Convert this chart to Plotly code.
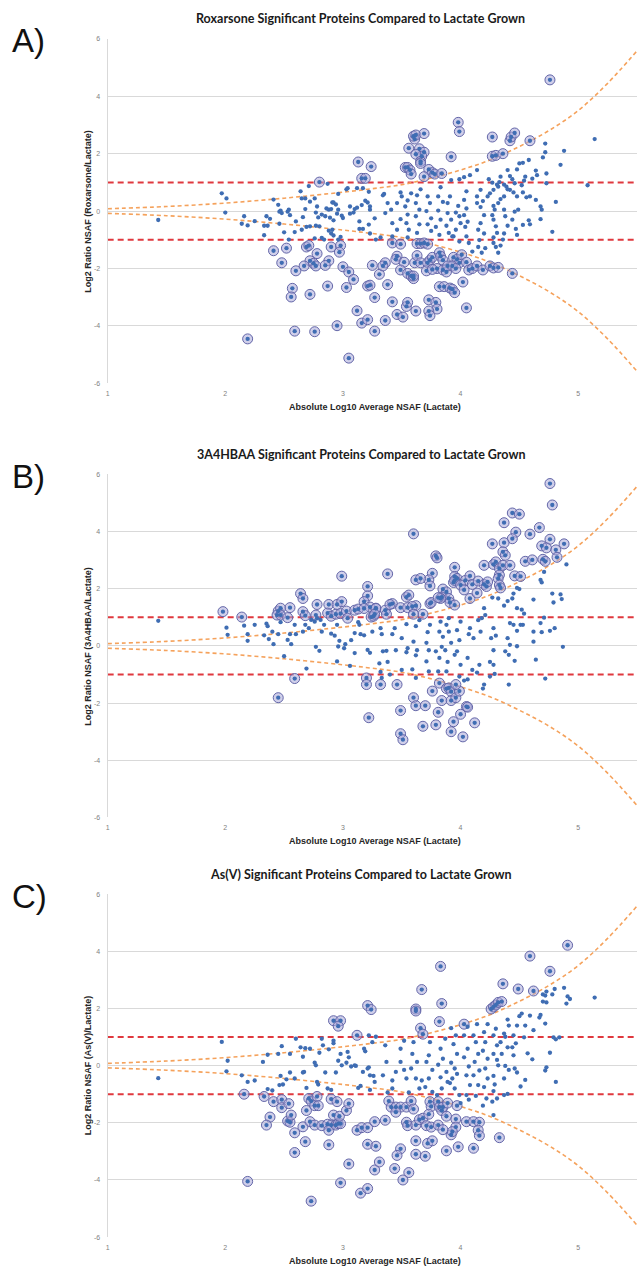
import plotly.graph_objects as go

# ---------------- data ----------------
# Panel A: Roxarsone
A_SIG = [(3.13,1.71),(3.24,1.55),(3.16,1.14),(3.19,1.14),(2.80,1.01),(2.41,-1.38),(2.52,-1.29),(2.69,-1.25),(2.71,-1.2),(2.90,-1.25),(2.98,-1.2),(2.97,-1.43),(2.78,-1.48),(2.48,-1.8),(2.72,-1.73),(2.75,-1.82),(2.77,-1.91),(2.88,-1.73),(2.85,-1.89),(2.67,-1.91),(2.60,-2.08),(3.0,-1.94),(3.05,-2.12),(3.09,-2.38),(3.25,-1.89),(3.31,-2.2),(2.57,-2.69),(2.56,-2.99),(2.72,-2.9),(2.87,-2.61),(3.03,-2.66),(3.21,-2.61),(3.23,-2.58),(3.27,-3.01),(3.12,-3.47),(2.95,-3.99),(3.16,-3.9),(3.21,-3.78),(2.59,-4.18),(2.76,-4.2),(3.27,-4.18),(2.19,-4.45),(3.05,-5.12),
(4.76,4.57),(3.98,3.09),(3.99,2.77),(4.27,2.58),(4.42,2.45),(4.43,2.58),(4.46,2.72),(4.59,2.45),(3.61,2.51),(3.60,2.61),(3.62,2.65),(3.69,2.7),(3.56,2.19),(3.65,2.17),(3.69,2.05),(3.67,1.91),(3.62,1.98),(3.66,1.73),(3.66,1.66),(3.92,1.89),(4.27,1.91),(4.30,1.94),(4.36,2.0),(3.53,1.52),(3.55,1.52),(3.57,1.43),(3.58,1.29),(3.73,1.45),(3.76,1.34),(3.78,1.29),(3.84,1.31),(3.69,1.2),
(3.42,-1.11),(3.49,-1.15),(3.63,-1.13),(3.66,-1.13),(3.69,-1.11),(3.72,-1.15),(3.46,-1.57),(3.45,-1.68),(3.36,-1.8),(3.34,-1.91),(3.52,-1.78),(3.49,-2.05),(3.61,-1.8),(3.63,-1.55),(3.66,-1.8),(3.72,-1.8),(3.74,-1.71),(3.76,-1.61),(3.82,-1.45),(3.83,-1.57),(3.85,-1.71),(3.80,-2.0),(3.85,-2.05),(3.88,-2.12),(3.89,-1.91),(3.94,-1.61),(3.97,-1.68),(3.99,-1.8),(3.93,-1.91),(3.96,-2.0),(4.01,-1.52),(4.05,-1.78),(4.07,-2.05),(4.10,-2.0),(4.14,-1.91),(4.19,-2.05),(4.25,-1.91),(4.28,-1.98),(4.32,-1.96),(4.44,-2.17),(3.71,-2.08),(3.76,-2.03),(3.55,-2.17),(3.58,-2.26),(3.60,-2.35),(3.60,-2.26),(3.38,-2.56),(3.82,-2.63),(3.86,-2.63),(3.91,-2.68),(3.93,-2.72),(3.95,-2.84),(4.02,-2.47),(3.42,-3.16),(3.54,-3.32),(3.55,-3.18),(3.62,-3.48),(3.73,-3.09),(3.79,-3.18),(3.80,-3.41),(3.73,-3.48),(3.74,-3.64),(4.05,-3.37),(3.46,-3.6),(3.51,-3.69),(3.36,-3.81)]

A_OTHER = [(1.43,-0.31),(1.97,0.62),(2.01,0.44),(2.0,-0.05),(2.16,-0.18),(2.14,-0.44),(2.19,-0.5),(2.25,-0.35),(2.33,-0.51),(2.36,-0.51),(2.33,-0.84),(2.35,-0.18),(2.38,-0.27),(2.41,0.4),(2.45,0.22),(2.46,-0.02),(2.47,0.02),(2.48,-0.07),(2.46,-0.44),(2.50,-0.74),(2.53,-0.02),(2.54,0.05),(2.55,-0.14),(2.54,-0.99),(2.60,-0.36),(2.59,-0.73),(2.64,0.69),(2.65,0.44),(2.68,0.44),(2.68,0.07),(2.66,-0.21),(2.65,-0.65),(2.71,0.87),(2.72,0.33),(2.69,-0.55),(2.72,-0.53),(2.76,0.44),(2.78,0.16),(2.77,-0.05),(2.79,-0.22),(2.77,-0.51),(2.80,-0.53),(2.76,-0.95),(2.82,-0.93),(2.84,-0.99),(2.87,0.95),(2.86,0.09),(2.88,0.05),(2.90,0.07),(2.82,-0.12),(2.85,-0.18),(2.91,0.3),(2.92,0.3),(2.94,0.23),(2.96,0.05),(2.95,-0.09),(2.89,-0.23),(2.92,-0.32),(2.88,-0.68),(2.91,-0.65),(2.90,-0.78),(2.92,-0.85),(2.96,0.6),(2.96,-0.99),(2.98,-0.9),(2.99,-0.16),(3.0,-0.24),(3.03,0.76),(3.04,0.8),(3.06,0.16),(3.06,-0.09),(3.09,-0.05),(3.10,0.07),(3.12,0.12),(3.14,-0.36),(3.12,0.8),(3.17,0.8),(3.16,0.21),(3.19,0.36),(3.21,0.3),(3.22,0.67),(3.23,0.16),(3.23,0.05),(3.14,-0.62),(3.17,-0.62),(3.22,-0.47),(3.23,-0.78),(3.27,-0.25),(3.28,-0.99),
(5.14,2.51),(4.88,2.1),(4.85,1.61),(4.72,2.35),(4.72,2.05),(4.70,1.87),(4.73,1.31),(4.58,1.78),(4.53,1.68),(4.50,1.66),(4.48,1.45),(4.64,1.41),(4.65,1.25),(4.61,1.13),(4.55,1.2),(4.54,1.06),(4.52,0.9),(4.53,0.65),(4.40,1.43),(4.42,1.22),(4.44,1.11),(4.46,0.97),(4.34,1.2),(4.33,1.01),(4.37,0.92),(4.39,0.85),(4.14,1.43),(4.08,1.25),(4.03,1.18),(3.92,1.08),(3.99,1.11),(4.24,1.11),(4.27,0.99),(4.31,0.92),(4.32,0.85),(4.73,0.97),(5.08,0.9),(4.81,0.32),(4.78,-0.72),(4.68,0.16),(4.69,0.05),(4.68,-0.28),(4.64,0.39),(4.59,0.51),(4.56,0.48),(4.58,-0.32),(4.59,-0.46),(4.53,-0.48),(4.48,0.51),(4.45,0.65),(4.42,0.74),(4.40,0.76),(4.49,0.05),(4.46,-0.02),(4.44,-0.3),(4.47,-0.62),(4.48,-0.83),(4.37,0.51),(4.34,0.42),(4.32,0.28),(4.37,0.05),(4.38,-0.18),(4.40,-0.51),(4.37,-0.78),(4.36,-0.99),(4.34,-1.2),(4.32,-1.45),(4.28,0.74),(4.25,0.62),(4.23,0.51),(4.19,0.35),(4.28,0.18),(4.29,0.05),(4.27,-0.14),(4.28,-0.3),(4.30,-0.53),(4.31,-0.76),(4.28,-0.92),(4.28,-1.11),(4.30,-1.25),(4.17,0.74),(4.14,0.51),(4.14,0.28),(4.17,0.14),(4.20,-0.14),(4.17,-0.42),(4.15,-0.65),(4.20,-0.78),(4.16,-1.01),(4.15,-1.25),(4.21,-1.29),(4.18,-1.45),(4.05,0.69),(4.03,0.39),(4.05,0.09),(4.03,-0.14),(4.06,-0.37),(4.04,-0.55),(4.05,-0.88),(4.07,-1.11),(4.10,-1.41),(3.98,0.18),(3.96,-0.05),(3.99,-0.18),(4.0,-0.42),(3.96,-0.65),(3.94,-0.88),(3.99,-1.06),(3.91,0.51),(3.89,0.28),(3.89,-0.07),(3.92,-0.3),(3.88,-0.51),(3.90,-0.76),(3.93,-0.88),(3.83,0.83),(3.81,0.51),(3.85,0.32),(3.81,0.02),(3.83,-0.3),(3.79,-0.55),(3.82,-0.83),(3.72,0.51),(3.74,0.28),(3.71,0.0),(3.75,-0.25),(3.72,-0.46),(3.75,-0.69),(3.66,0.76),(3.63,0.55),(3.62,0.28),(3.65,0.05),(3.62,-0.18),(3.65,-0.46),(3.63,-0.76),(3.58,0.62),(3.55,0.37),(3.53,0.16),(3.55,-0.12),(3.54,-0.42),(3.56,-0.65),(3.55,-0.92),(3.49,0.65),(3.50,0.51),(3.46,0.28),(3.49,-0.28),(3.46,-0.65),(3.42,-0.88),(3.35,0.6),(3.34,0.55),(3.36,-0.07),(3.38,0.28),(3.41,0.05),(3.42,-0.42),(3.32,-0.92)]

# Panel B: 3A4HBAA
B_SIG = [(2.99,2.44),(3.21,2.08),(3.21,1.75),(2.64,1.83),(2.66,1.66),(1.98,1.2),(2.14,1.01),(2.45,1.22),(2.47,1.32),(2.55,1.34),(2.44,1.08),(2.47,1.08),(2.53,0.99),(2.66,1.2),(2.68,1.06),(2.78,1.45),(2.88,1.45),(2.95,1.45),(2.99,1.55),(2.77,1.08),(2.87,1.15),(2.90,1.04),(2.94,1.11),(2.98,1.13),(3.03,1.22),(3.10,1.25),(3.13,1.29),(3.18,1.55),(3.23,1.36),(3.28,1.32),(3.04,0.97),(3.24,1.01),(3.26,1.04),(2.59,-1.14),(2.45,-1.81),(3.20,-1.12),(3.20,-1.35),(3.22,-2.51),(3.32,-1.35),
(4.76,5.68),(4.78,4.93),(4.44,4.65),(4.50,4.61),(4.37,4.31),(4.67,4.14),(4.59,3.91),(4.47,3.98),(4.44,3.75),(3.60,3.92),(4.27,3.57),(4.37,3.61),(4.36,3.29),(4.38,3.17),(4.69,3.5),(4.76,3.73),(4.73,3.43),(4.81,3.36),(4.88,3.57),(4.82,3.1),(3.79,3.15),(3.80,3.08),(4.55,2.96),(4.61,3.01),(4.70,3.03),(4.72,2.96),(3.38,2.52),(3.76,2.54),(3.73,2.31),(3.74,2.1),(3.62,2.31),(3.66,2.36),(3.95,2.75),(3.95,2.43),(3.97,2.36),(3.94,2.22),(3.95,2.29),(4.04,2.29),(4.08,2.45),(4.10,2.15),(4.15,2.27),(4.20,2.15),(4.22,2.08),(4.23,2.24),(4.20,2.82),(4.28,2.85),(4.30,2.94),(4.33,2.71),(4.33,2.48),(4.32,2.36),(4.33,2.13),(4.34,2.03),(4.36,2.82),(4.42,2.82),(4.46,2.45),(4.51,2.43),(3.85,1.99),(3.88,1.89),(3.84,1.71),(3.90,1.66),(3.91,1.52),(3.95,1.43),(4.0,2.13),(4.03,1.96),(4.08,1.66),(4.14,1.85),(3.18,1.31),(3.28,1.31),(3.27,1.11),(3.36,1.25),(3.37,1.11),(3.42,1.48),(3.40,1.45),(3.49,1.34),(3.55,1.34),(3.54,1.71),(3.56,1.78),(3.62,1.41),(3.68,1.11),(3.74,1.48),(3.75,1.52),(3.83,1.66),(3.81,1.69),(3.59,1.38),(3.60,1.11),
(3.46,-1.35),(3.49,-2.26),(3.49,-3.07),(3.51,-3.28),(3.60,-1.81),(3.62,-2.09),(3.70,-2.09),(3.68,-2.81),(3.76,-1.58),(3.81,-2.32),(3.79,-2.76),(3.82,-1.3),(3.84,-1.91),(3.88,-1.49),(3.90,-1.47),(3.92,-1.6),(3.92,-1.91),(3.96,-1.81),(3.99,-1.58),(3.96,-1.35),(4.0,-2.39),(4.05,-2.12),(4.06,-2.14),(3.94,-2.65),(3.92,-3.0),(4.02,-3.18),(4.12,-2.69)]

B_OTHER = [(1.43,0.88),(2.01,0.64),(2.02,0.39),(2.16,0.71),(2.19,0.41),(2.19,0.18),(2.25,0.74),(2.33,0.37),(2.35,0.78),(2.36,0.69),(2.41,0.06),(2.37,0.24),(2.40,0.5),(2.45,0.41),(2.47,0.83),(2.50,-0.36),(2.53,0.21),(2.55,0.41),(2.56,0.06),(2.59,0.74),(2.60,0.41),(2.68,0.74),(2.71,0.62),(2.66,0.5),(2.69,-0.79),(2.73,0.91),(2.76,0.85),(2.78,0.97),(2.81,0.91),(2.84,0.74),(2.82,0.5),(2.77,-0.03),(2.80,-0.17),(2.93,0.36),(2.90,0.43),(2.95,0.74),(2.97,0.18),(2.96,-0.02),(3.01,-0.08),(3.02,0.06),(2.95,-0.54),(3.06,-0.7),(3.10,-0.25),(3.13,0.83),(3.14,0.74),(3.15,0.41),(3.18,0.37),(3.21,-0.14),(3.23,-0.24),(3.25,0.5),(3.32,0.62),(3.07,0.2),(3.10,0.45),(3.31,-0.61),(3.33,-1.12),
(4.90,2.85),(4.78,1.83),(4.85,1.8),(4.86,1.64),(4.79,1.52),(4.68,2.31),(4.69,2.22),(4.71,2.59),(4.62,1.62),(4.87,-0.03),(4.72,-1.14),(4.80,0.62),(4.76,0.53),(4.69,0.48),(4.68,0.8),(4.71,0.99),(4.62,0.5),(4.62,0.15),(4.64,-0.48),(4.48,2.03),(4.50,1.99),(4.45,1.83),(4.44,1.66),(4.40,1.57),(4.37,1.41),(4.32,1.66),(4.27,1.69),(4.48,1.32),(4.52,1.27),(4.54,1.13),(4.53,0.74),(4.51,0.74),(4.48,0.53),(4.45,0.74),(4.42,0.8),(4.40,0.27),(4.42,0.04),(4.38,-0.19),(4.41,-0.31),(4.48,-0.01),(4.46,-0.52),(4.41,-1.35),(4.28,0.62),(4.30,0.36),(4.26,0.27),(4.28,-0.15),(4.25,-0.56),(4.28,-0.66),(4.29,-0.98),(4.25,-1.07),(4.20,1.32),(4.18,0.97),(4.15,0.9),(4.17,0.5),(4.21,1.08),(4.16,-0.66),(4.14,-0.93),(4.20,-1.35),(4.19,-1.49),(4.08,0.62),(4.07,0.41),(4.11,0.27),(4.06,-0.42),(4.10,-0.84),(4.06,-1.17),(4.0,0.85),(3.97,0.55),(3.99,0.2),(3.97,-0.19),(3.95,-0.31),(4.0,-0.66),(3.99,-1.07),(4.03,-1.21),(3.90,0.97),(3.88,0.74),(3.90,0.5),(3.92,0.11),(3.87,-0.15),(3.89,-0.56),(3.88,-0.89),(3.83,0.85),(3.82,0.5),(3.85,0.32),(3.84,-0.03),(3.79,-0.19),(3.82,-0.42),(3.81,-0.89),(3.74,0.74),(3.72,0.48),(3.71,0.11),(3.73,-0.15),(3.71,-0.54),(3.73,-0.89),(3.65,0.9),(3.62,0.69),(3.60,0.15),(3.63,-0.15),(3.62,-0.33),(3.59,-0.82),(3.62,-1.12),(3.54,0.76),(3.50,0.27),(3.55,-0.08),(3.54,-0.22),(3.50,-0.84),(3.44,0.62),(3.42,0.41),(3.45,-0.15),(3.38,-0.56),(3.37,-0.17),(3.34,-0.19),(3.33,0.41),(3.32,-0.91),(3.40,-1.0)]

# Panel C: As(V)
C_SIG = [(3.21,2.1),(3.24,1.96),(2.92,1.57),(2.98,1.57),(2.96,1.38),(3.12,1.06),(2.16,-1.0),(2.33,-1.08),(2.41,-1.26),(2.48,-1.19),(2.48,-1.47),(2.54,-1.33),(2.38,-1.8),(2.35,-2.08),(2.53,-1.94),(2.55,-1.98),(2.56,-1.73),(2.59,-2.35),(2.59,-3.04),(2.66,-2.14),(2.68,-2.66),(2.69,-1.57),(2.71,-1.15),(2.73,-1.24),(2.76,-1.4),(2.78,-1.08),(2.79,-1.4),(2.72,-1.96),(2.76,-2.08),(2.82,-2.1),(2.87,-2.05),(2.90,-2.08),(2.88,-2.26),(2.94,-2.08),(2.96,-2.03),(2.98,-2.03),(2.92,-1.73),(2.97,-1.77),(3.03,-1.57),(3.05,-1.33),(2.90,-1.17),(2.95,-1.26),(2.88,-2.77),(3.05,-3.44),(2.98,-4.1),(3.15,-4.46),(3.21,-4.3),(2.19,-4.05),(2.73,-4.74),(3.12,-2.26),(3.16,-2.17),(3.21,-2.17),(3.27,-1.96),(3.21,-2.75),(3.28,-2.82),(3.27,-3.65),(3.31,-3.37),
(4.91,4.21),(4.59,3.83),(4.76,3.3),(3.83,3.47),(3.67,2.66),(4.36,2.86),(4.49,2.68),(4.62,2.61),(3.62,1.98),(3.62,1.91),(3.84,2.17),(3.82,1.54),(3.66,1.31),(3.68,1.1),(4.03,1.45),(4.26,1.98),(4.28,2.05),(4.30,2.12),(4.32,2.21),(4.35,2.24),
(3.39,-1.24),(3.41,-1.45),(3.45,-1.45),(3.49,-1.45),(3.54,-1.45),(3.58,-1.24),(3.60,-1.52),(3.45,-1.63),(3.36,-1.91),(3.54,-1.98),(3.55,-2.1),(3.62,-2.08),(3.65,-1.89),(3.68,-1.84),(3.71,-2.1),(3.75,-2.15),(3.74,-1.26),(3.75,-1.43),(3.73,-1.7),(3.81,-1.26),(3.82,-1.45),(3.84,-1.57),(3.85,-1.45),(3.88,-1.77),(3.89,-1.31),(3.97,-1.4),(3.96,-1.87),(3.96,-2.15),(3.92,-2.42),(3.93,-2.31),(3.81,-2.08),(3.85,-2.24),(4.05,-1.96),(4.11,-1.96),(4.16,-1.98),(4.15,-2.26),(4.16,-2.45),(4.33,-2.52),(3.49,-2.91),(3.46,-3.14),(3.62,-2.63),(3.72,-2.72),(3.76,-2.63),(3.88,-2.98),(3.98,-2.84),(4.11,-2.89),(3.62,-3.1),(3.70,-3.17),(3.44,-3.6),(3.56,-3.74),(3.51,-4.0)]

C_OTHER = [(1.43,-0.44),(1.97,0.83),(2.02,0.17),(2.01,-0.2),(2.14,-0.34),(2.19,-0.57),(2.25,-0.52),(2.32,0.13),(2.36,0.38),(2.36,-0.82),(2.40,-0.87),(2.45,0.41),(2.46,-0.68),(2.48,0.68),(2.49,-0.66),(2.47,-0.36),(2.52,-0.48),(2.55,0.41),(2.55,-0.24),(2.59,-0.45),(2.60,0.94),(2.64,0.64),(2.66,0.31),(2.66,-0.24),(2.67,-0.22),(2.69,-0.78),(2.68,0.61),(2.72,0.59),(2.76,0.1),(2.77,0.01),(2.78,-0.57),(2.79,-0.66),(2.80,0.45),(2.82,0.94),(2.83,0.71),(2.85,-0.24),(2.87,-0.8),(2.90,-0.85),(2.88,0.57),(2.92,0.87),(2.92,0.78),(2.94,-0.24),(2.96,0.17),(2.98,0.41),(2.99,0.01),(3.03,0.1),(3.04,0.48),(3.05,0.29),(3.07,-0.03),(3.10,0.01),(3.11,-0.01),(3.13,-0.78),(3.15,-0.71),(3.18,0.59),(3.19,0.5),(3.21,-0.1),(3.22,-0.06),(3.23,-0.85),(3.23,-0.34),(3.26,-0.36),(3.22,1.06),
(5.14,2.38),(4.88,2.72),(4.91,2.42),(4.93,2.33),(4.90,2.17),(4.73,2.59),(4.70,2.49),(4.72,2.45),(4.80,2.68),(4.78,2.49),(4.70,2.24),(4.73,2.21),(4.68,1.77),(4.67,1.68),(4.72,1.47),(4.76,0.45),(4.73,-0.06),(4.72,-0.17),(4.81,-0.57),(4.79,0.99),(4.84,0.99),(4.81,0.92),(4.59,1.75),(4.61,0.22),(4.62,1.24),(4.55,1.4),(4.54,0.99),(4.57,0.43),(4.50,1.73),(4.52,1.82),(4.48,1.4),(4.45,1.06),(4.47,0.78),(4.44,0.64),(4.45,0.36),(4.46,-0.1),(4.51,-0.73),(4.48,-0.24),(4.55,-0.5),(4.40,1.61),(4.41,1.4),(4.37,1.12),(4.38,1.01),(4.34,0.82),(4.40,0.64),(4.35,0.41),(4.38,-0.01),(4.41,-0.15),(4.37,-0.45),(4.37,-1.03),(4.40,-0.99),(4.31,-1.15),(4.30,1.29),(4.28,1.06),(4.31,0.71),(4.28,0.41),(4.31,0.2),(4.32,0.01),(4.28,-0.36),(4.29,-0.66),(4.28,-0.89),(4.27,-1.26),(4.28,-1.73),(4.23,1.45),(4.20,1.17),(4.21,0.82),(4.19,0.52),(4.23,0.24),(4.21,-0.1),(4.23,-0.45),(4.20,-0.75),(4.22,-1.15),(4.19,-1.4),(4.14,1.45),(4.11,1.06),(4.13,0.82),(4.15,0.41),(4.12,0.13),(4.16,-0.17),(4.11,-0.34),(4.15,-0.68),(4.13,-1.06),(4.06,1.36),(4.03,1.06),(4.06,0.59),(4.03,0.29),(4.07,-0.03),(4.05,-0.34),(4.08,-0.68),(4.05,-1.03),(4.07,-1.19),(3.92,1.31),(3.96,1.06),(3.94,0.75),(3.97,0.41),(3.92,0.1),(3.95,-0.1),(3.97,-0.29),(3.93,-0.45),(3.91,-0.61),(3.95,-0.8),(3.99,-1.03),(4.0,-1.31),(3.87,0.94),(3.83,0.59),(3.85,0.24),(3.81,0.03),(3.88,-0.22),(3.83,-0.41),(3.89,-0.57),(3.84,-0.8),(3.80,-1.03),(3.74,0.82),(3.73,0.36),(3.71,0.13),(3.76,-0.15),(3.73,-0.45),(3.70,-0.75),(3.76,-0.92),(3.60,0.82),(3.59,0.41),(3.63,0.13),(3.58,-0.1),(3.62,-0.45),(3.65,-0.8),(3.67,-0.52),(3.52,0.87),(3.49,0.59),(3.49,0.13),(3.52,-0.15),(3.54,-0.45),(3.56,-0.94),(3.36,0.71),(3.37,0.13),(3.34,-0.34),(3.42,-0.52),(3.42,-0.8),(3.38,-0.94),(3.45,-0.22),(3.28,1.01),(3.25,0.82),(3.17,-0.22),(3.27,-0.57)]

# funnel (dashed orange) curves
FUNNEL_X = [1.0, 1.5, 2.0, 2.5, 3.0, 3.25, 3.5, 3.75, 4.0, 4.25, 4.5, 4.75, 5.0, 5.25, 5.5]
FUNNEL_UP = [0.08, 0.16, 0.28, 0.45, 0.66, 0.78, 0.92, 1.15, 1.43, 1.78, 2.25, 2.8, 3.5, 4.45, 5.58]
FUNNEL_LO = [-0.08, -0.16, -0.28, -0.45, -0.66, -0.78, -0.92, -1.15, -1.43, -1.78, -2.25, -2.8, -3.5, -4.45, -5.58]

THRESH_X = [1.0, 5.5]
THRESHOLDS = [1, -1]

X_TICKS = [1, 2, 3, 4, 5]
Y_TICKS = [-6, -4, -2, 0, 2, 4, 6]
Y_TICK_TEXT = ["-6", "-4", "-2", "0", "2", "4", "6"]

TITLES = ["Roxarsone Significant Proteins Compared to Lactate Grown",
          "3A4HBAA Significant Proteins Compared to Lactate Grown",
          "As(V) Significant Proteins Compared to Lactate Grown"]
Y_TITLES = ["Log2 Ratio NSAF (Roxarsone/Lactate)",
            "Log2 Ratio NSAF (3A4HBAA/Lactate)",
            "Log2 Ratio NSAF (As(V)/Lactate)"]
X_TITLE = "Absolute Log10 Average NSAF (Lactate)"
LABELS = ["A)", "B)", "C)"]

# ---------------- layout ----------------
W, H = 637, 1270
PLOT_LEFT = 106
# (top_px, bottom_px) of each plotting area
PANELS_PX = [(35, 381.5), (473, 818), (895, 1240)]

fig = go.Figure()

def py(p):
    return 1 - p / H

DOT = "#3F6DB3"
RING_FILL = "rgba(170,168,216,0.55)"
RING_LINE = "#6366A8"

sets = [(A_SIG, A_OTHER), (B_SIG, B_OTHER), (C_SIG, C_OTHER)]
for i, (sig, other) in enumerate(sets):
    n = i + 1
    xa = "x" if n == 1 else f"x{n}"
    ya = "y" if n == 1 else f"y{n}"
    for t in THRESHOLDS:
        fig.add_trace(go.Scatter(x=THRESH_X, y=[t, t], mode="lines", xaxis=xa, yaxis=ya,
                                 line=dict(color="#E0383E", width=2, dash="6px,4px"),
                                 hoverinfo="skip", showlegend=False))
    for curve in (FUNNEL_UP, FUNNEL_LO):
        fig.add_trace(go.Scatter(x=FUNNEL_X, y=curve, mode="lines", xaxis=xa, yaxis=ya,
                                 line=dict(color="#F5A25C", width=1.6, dash="4px,3px", shape="spline"),
                                 hoverinfo="skip", showlegend=False))
    sx = [p[0] for p in sig]
    sy = [p[1] for p in sig]
    ox = [p[0] for p in other]
    oy = [p[1] for p in other]
    fig.add_trace(go.Scatter(x=sx, y=sy, mode="markers", xaxis=xa, yaxis=ya,
                             marker=dict(size=10, color=RING_FILL, line=dict(color=RING_LINE, width=1)),
                             showlegend=False))
    fig.add_trace(go.Scatter(x=ox + sx, y=oy + sy, mode="markers", xaxis=xa, yaxis=ya,
                             marker=dict(size=4.3, color=DOT), showlegend=False))

    top, bot = PANELS_PX[i]
    axis_common = dict(tickfont=dict(family="Liberation Sans", size=7, color="#7F7F7F"))
    fig.layout[("xaxis" if n == 1 else f"xaxis{n}")] = dict(
        domain=[PLOT_LEFT / W, 1], range=[1, 5.5], anchor=ya,
        tickvals=X_TICKS, showgrid=False, zeroline=False, showline=False,
        ticks="", ticklabelstandoff=5, **axis_common)
    fig.layout[("yaxis" if n == 1 else f"yaxis{n}")] = dict(
        domain=[py(bot), py(top)], range=[-6, 6], anchor=xa,
        tickvals=Y_TICKS, ticktext=Y_TICK_TEXT, showgrid=True, gridcolor="#D9D9D9", gridwidth=1,
        zeroline=False, showline=True, linecolor="#D9D9D9", linewidth=1,
        ticks="", ticklabelstandoff=5, **axis_common)

    fig.add_annotation(text=TITLES[i], xref="paper", yref="paper",
                       x=360 / W, y=py(top - 20), xanchor="center", yanchor="middle",
                       showarrow=False, font=dict(family="Lato", size=12.5, color="#1A1A1A", weight="bold"))
    fig.add_annotation(text=LABELS[i], xref="paper", yref="paper",
                       x=8 / W, y=py(top + 2), xanchor="left", yanchor="middle",
                       showarrow=False, font=dict(family="Liberation Sans", size=33, color="#111111"))
    fig.add_annotation(text=Y_TITLES[i], xref="paper", yref="paper", textangle=-90,
                       x=86 / W, y=py((top + bot) / 2), xanchor="center", yanchor="middle",
                       showarrow=False, font=dict(family="Liberation Sans", size=9, color="#262626", weight="bold"))
    fig.add_annotation(text=X_TITLE, xref="paper", yref="paper",
                       x=374 / W, y=py(bot + 24), xanchor="center", yanchor="middle",
                       showarrow=False, font=dict(family="Liberation Sans", size=9, color="#262626", weight="bold"))

fig.update_layout(width=W, height=H, margin=dict(l=0, r=0, t=0, b=0),
                  paper_bgcolor="white", plot_bgcolor="white", showlegend=False)

fig.write_html("out.html")
